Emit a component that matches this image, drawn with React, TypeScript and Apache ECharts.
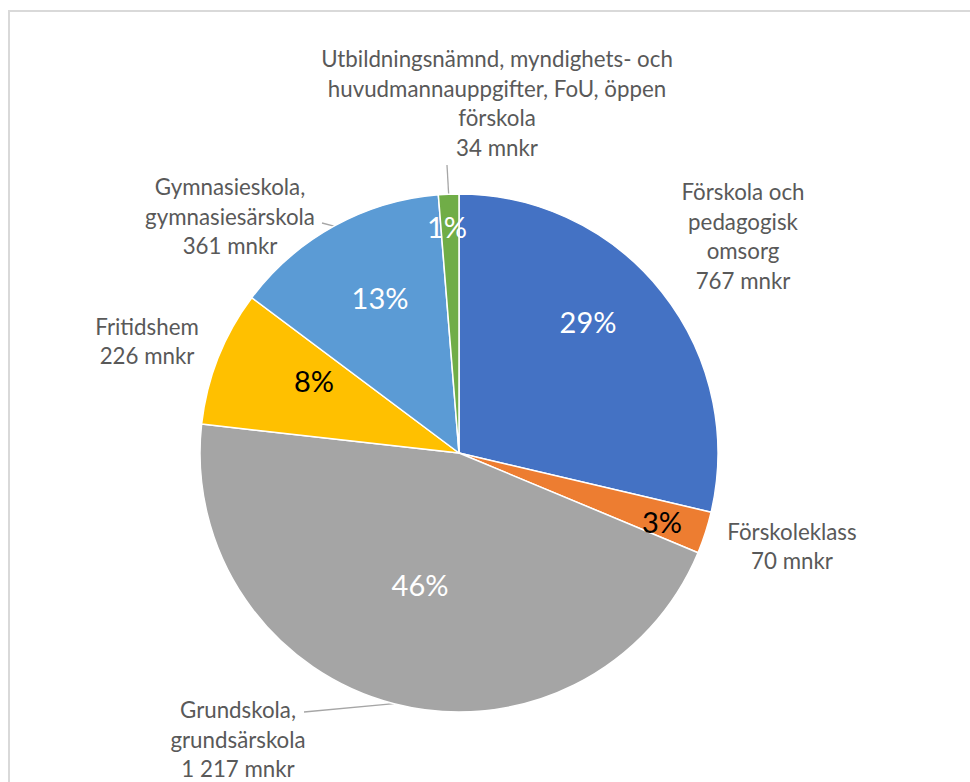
import React, { useEffect, useRef } from "react";
import * as echarts from "echarts";

const categories = [
  "Förskola och\npedagogisk\nomsorg",
  "Förskoleklass",
  "Grundskola,\ngrundsärskola",
  "Fritidshem",
  "Gymnasieskola,\ngymnasiesärskola",
  "Utbildningsnämnd, myndighets- och\nhuvudmannauppgifter, FoU, öppen\nförskola",
];
const valueLabels = ["767", "70", "1 217", "226", "361", "34"];
const values = [767, 70, 1217, 226, 361, 34];
const pctLabels = ["29%", "3%", "46%", "8%", "13%", "1%"];
const colors = ["#4472C4", "#ED7D31", "#A5A5A5", "#FFC000", "#5B9BD5", "#70AD47"];
const pctColors = ["#ffffff", "#000000", "#ffffff", "#000000", "#ffffff", "#ffffff"];

// layout of labels (positions, not data)
const CX = 459;
const CY = 453;
const R = 259;
const outerPos: [number, number][] = [
  [743, 236],
  [792, 546],
  [238, 739],
  [147, 341],
  [230, 216],
  [497, 103],
];
const outerLineEnd: ([number, number] | null)[] = [
  null,
  null,
  [304, 712],
  null,
  [322, 223],
  [447, 165],
];
const innerPos: [number, number][] = [
  [588, 321],
  [662, 521],
  [420, 584],
  [314, 380],
  [380, 297],
  [447, 226],
];

export default function App() {
  const ref = useRef<HTMLDivElement>(null);
  useEffect(() => {
    if (!ref.current) return;
    const chart = echarts.init(ref.current, null, { renderer: "svg" });
    const font = "Lato, 'Open Sans', sans-serif";
    const outerData = values.map((v, i) => ({
      value: v,
      name: categories[i],
      itemStyle: { color: colors[i] },
      labelLine: { show: outerLineEnd[i] != null },
    }));
    const innerData = values.map((v, i) => ({
      value: v,
      name: categories[i],
      label: { color: pctColors[i] },
    }));
    chart.setOption({
      animation: false,
      backgroundColor: "#ffffff",
      graphic: [
        {
          type: "rect",
          shape: { x: 9, y: 11, width: 1000, height: 800 },
          style: { fill: "none", stroke: "#d9d9d9", lineWidth: 2 },
          silent: true,
        },
      ],
      series: [
        {
          type: "pie",
          center: [CX, CY],
          radius: [0, R],
          startAngle: 90,
          clockwise: true,
          data: outerData,
          itemStyle: { borderColor: "#ffffff", borderWidth: 1.5 },
          label: {
            show: true,
            position: "outside",
            formatter: (p: any) => `${p.name}\n${valueLabels[p.dataIndex]} mnkr`,
            fontFamily: font,
            fontSize: 22.3,
            lineHeight: 29.5,
            color: "#595959",
            align: "center",
          },
          labelLine: {
            show: true,
            length: 10,
            length2: 10,
            lineStyle: { color: "#a6a6a6", width: 1.3 },
          },
          labelLayout: (p: any) => {
            const i = p.dataIndex;
            const out: any = {
              x: outerPos[i][0],
              y: outerPos[i][1],
              align: "center",
              verticalAlign: "middle",
            };
            const end = outerLineEnd[i];
            if (end && p.labelLinePoints) {
              const s = p.labelLinePoints[0];
              out.labelLinePoints = [s, end, end];
            }
            return out;
          },
        },
        {
          type: "pie",
          center: [CX, CY],
          radius: [0, R],
          startAngle: 90,
          clockwise: true,
          silent: true,
          data: innerData,
          itemStyle: { color: "rgba(0,0,0,0)", borderWidth: 0 },
          label: {
            show: true,
            position: "inside",
            formatter: (p: any) => pctLabels[p.dataIndex],
            fontFamily: font,
            fontSize: 29,
          },
          labelLine: { show: false },
          labelLayout: (p: any) => ({
            x: innerPos[p.dataIndex][0],
            y: innerPos[p.dataIndex][1],
            align: "center",
            verticalAlign: "middle",
          }),
        },
      ],
    });
    return () => chart.dispose();
  }, []);
  return (
    <div
      ref={ref}
      style={{ position: "fixed", left: 0, top: 0, width: 970, height: 782 }}
    />
  );
}
